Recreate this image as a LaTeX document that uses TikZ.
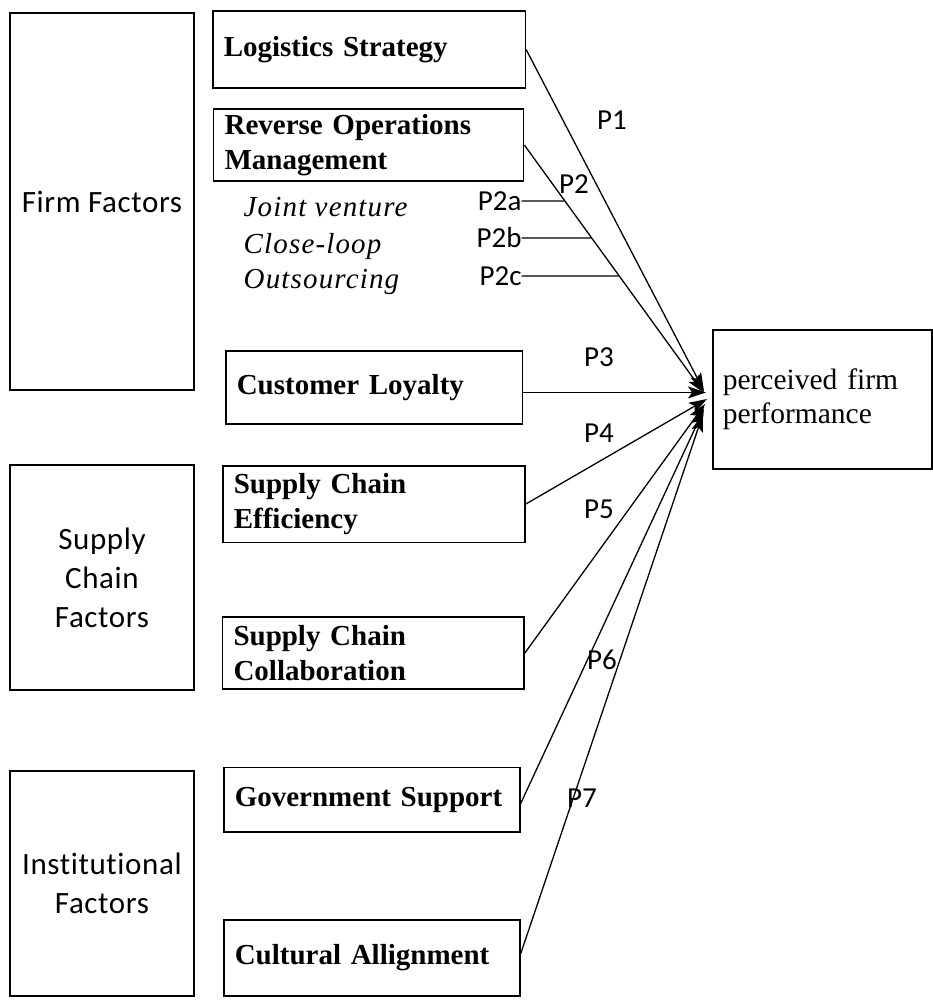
\documentclass[tikz,border=0pt]{standalone}
\usepackage{fontspec}
\setmainfont{Liberation Serif}
\newfontfamily\carfont[Ligatures=NoCommon]{Carlito}
\newfontfamily\carwide[Ligatures=NoCommon,LetterSpace=2]{Carlito}
\usetikzlibrary{arrows.meta}
\begin{document}
\begin{tikzpicture}[x=1pt,y=-1pt,
  fbx/.style={draw, line width=1.6pt, anchor=north west, inner sep=0pt,
    font=\carwide\fontsize{31}{39}\selectfont, align=center, minimum width=184.3pt},
  bx/.style={draw, line width=1.6pt, anchor=north west, inner ysep=0pt, inner xsep=11pt,
    font=\fontsize{29}{35}\selectfont\bfseries, align=left},
  itx/.style={anchor=base west, inner sep=0pt,
    font=\fontsize{29}{35}\selectfont\itshape\addfontfeatures{LetterSpace=4}},
  plab/.style={font=\carfont\fontsize{29}{34}\selectfont, inner sep=0pt},
  conn/.style={line width=1.3pt, -{Stealth[length=18pt,width=12pt,inset=4pt]}},
  sub/.style={line width=1.3pt}]
\useasboundingbox (0,0) rectangle (933,1001);

% factor boxes
\node[fbx, minimum height=377pt] (ff) at (9,12.3) {Firm Factors};
\node[fbx, minimum height=225pt] (scf) at (9,464.3) {Supply\\Chain\\Factors};
\node[fbx, minimum height=225pt] (inf) at (9,770) {Institutional\\Factors};

% construct boxes
\node[bx, minimum width=312.5pt, minimum height=77.3pt, text width=290.5pt] (ls) at (212,10) {Logistics Strategy};
\node[bx, minimum width=310pt, minimum height=72pt, text width=288pt] (rom) at (212.8,108.3) {Reverse Operations\\Management};
\node[itx] (jv) at (243.5,216.7) {Joint venture};
\node[itx] (clp) at (243.5,253.3) {Close-loop};
\node[itx] (out) at (243.5,288.3) {Outsourcing};
\node[bx, minimum width=296.7pt, minimum height=73.3pt, text width=274.7pt] (cl) at (225,350) {Customer Loyalty};
\node[bx, minimum width=302pt, minimum height=76.7pt, text width=280pt] (sce) at (222,465) {Supply Chain\\Efficiency};
\node[bx, minimum width=301.6pt, minimum height=72.3pt, text width=279.6pt] (scc) at (221.7,616) {Supply Chain\\Collaboration};
\node[bx, minimum width=296pt, minimum height=64.3pt, text width=274pt] (gs) at (223,766.7) {Government Support};
\node[bx, minimum width=296pt, minimum height=75.7pt, text width=274pt] (ca) at (223,919.3) {Cultural Allignment};

% outcome
\node[draw, line width=1.6pt, anchor=north west, minimum width=219pt, minimum height=139pt,
  text width=199pt, inner xsep=10pt, inner ysep=0pt, align=left,
  font=\fontsize{29.5}{34}\selectfont] (pp) at (712,329) {perceived firm\\performance};

% labels
\node[plab] (p1) at (612,120) {P1};
\node[plab] (p2) at (574,184) {P2};
\node[plab, anchor=east] (p2a) at (521.7,201) {P2a};
\node[plab, anchor=east] (p2b) at (521.7,238) {P2b};
\node[plab, anchor=east] (p2c) at (521.7,276) {P2c};
\node[plab] (p3) at (599,357) {P3};
\node[plab] (p4) at (599,433) {P4};
\node[plab] (p5) at (599,509) {P5};
\node[plab] (p6) at (602,660) {P6};
\node[plab] (p7) at (582,798) {P7};

% arrow tips
\coordinate (t1) at (704,391);
\coordinate (t2) at (704,393);
\coordinate (t3) at (706,391.7);
\coordinate (t4) at (707,399);
\coordinate (t5) at (705,404);
\coordinate (t6) at (704,409);
\coordinate (t7) at (703,414);

\coordinate (rs) at (rom.east);
\draw[conn] (ls.east) -- (t1);
\draw[conn] (rs) -- (t2);
\draw[conn] ([yshift=-5pt]cl.east) -- ([yshift=-5pt]cl.east -| t3);
\draw[conn] (sce.east) -- (t4);
\draw[conn] (scc.east) -- (t5);
\draw[conn] ([yshift=-4pt]gs.east) -- (t6);
\draw[conn] ([yshift=4pt]ca.east) -- (t7);

% moderator ticks
\coordinate (ea) at (p2a.east);
\coordinate (eb) at (p2b.east);
\coordinate (ec) at (p2c.east);
\coordinate (ha) at ([xshift=200pt]p2a.east);
\coordinate (hb) at ([xshift=200pt]p2b.east);
\coordinate (hc) at ([xshift=200pt]p2c.east);
\draw[sub] (ea) -- (intersection of ea--ha and rs--t2);
\draw[sub] (eb) -- (intersection of eb--hb and rs--t2);
\draw[sub] (ec) -- (intersection of ec--hc and rs--t2);
\end{tikzpicture}
\end{document}
